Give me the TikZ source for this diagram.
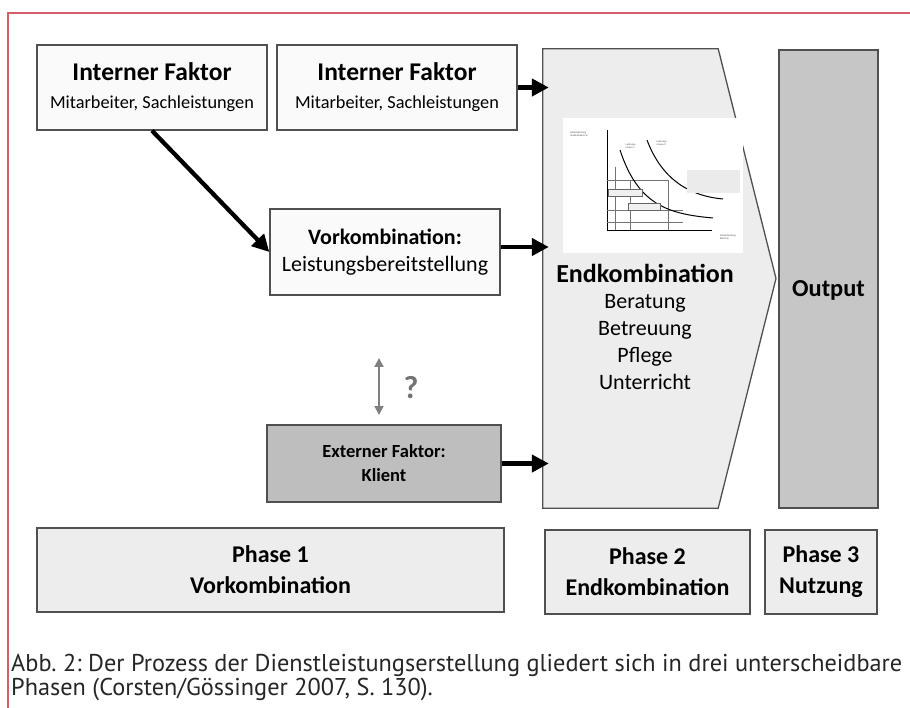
\documentclass[tikz,border=0pt]{standalone}
\usepackage{fontspec}
\setmainfont{Carlito}
\newfontfamily\captionfont{PT Sans}
\usetikzlibrary{arrows.meta,positioning}
\frenchspacing
\definecolor{framered}{HTML}{D35F6B}
\definecolor{boxline}{HTML}{505050}
\definecolor{lightfill}{HTML}{EDEDED}
\definecolor{outputfill}{HTML}{C6C6C6}
\definecolor{clientfill}{HTML}{BEBEBE}
\tikzset{
  box/.style={draw=boxline, line width=1.3pt, fill=black!2, align=center, inner sep=0pt},
  phasebox/.style={box, fill=lightfill, minimum height=84pt, font=\bfseries\fontsize{24}{31}\selectfont},
  flow/.style={line width=4.3pt, -{Triangle[length=17pt,width=17pt]}},
  chartline/.style={black!55, line width=0.5pt},
  chartlabel/.style={font=\fontsize{2.6}{3}\selectfont, align=left, inner sep=0pt, text=black!70}
}
\begin{document}
\begin{tikzpicture}[x=1pt,y=-1pt]
\useasboundingbox[fill=white] (0,0) rectangle (910,708);
\draw[framered, line width=1.3pt] (8,708) -- (8,13) -- (910,13);

\node[box, minimum width=230pt, minimum height=85pt, font=\fontsize{18.3}{28}\selectfont] (intA) at (152,87.5)
  {{\bfseries\fontsize{25.5}{28}\selectfont Interner Faktor}\\Mitarbeiter, Sachleistungen};
\node[box, minimum width=240pt, minimum height=85pt, font=\fontsize{18.3}{28}\selectfont] (intB) at (397,87.5)
  {{\bfseries\fontsize{25.5}{28}\selectfont Interner Faktor}\\Mitarbeiter, Sachleistungen};
\node[box, minimum width=230pt, minimum height=86pt, font=\fontsize{22}{27}\selectfont] (vork) at (385,252)
  {{\bfseries\fontsize{22}{27}\selectfont Vorkombination:}\\Leistungsbereitstellung};
\node[box, fill=clientfill, minimum width=234pt, minimum height=77pt, font=\bfseries\fontsize{18.5}{24}\selectfont] (ext) at (384,463.5)
  {Externer Faktor:\\Klient};

\node[minimum width=175pt, minimum height=459pt, inner sep=0pt] (endk) at (630.5,278.5) {};
\draw[boxline, line width=1.3pt, fill=lightfill] (endk.north west) -- (endk.north east) -- (776,278.5) -- (endk.south east) -- (endk.south west) -- cycle;
\node[box, fill=outputfill, minimum width=99pt, minimum height=458pt, text height=42pt, text depth=6pt, font=\bfseries\fontsize{24.4}{27}\selectfont] (output) at (828.5,279) {Output};

\fill[white] (563,118) rectangle (743,253);
\draw[line width=0.8pt] (607,130) -- (607,230) -- (712,230);
\draw[chartline] (615,167) -- (615,230) (630,180) -- (630,230) (668,180) -- (668,230);
\draw[chartline] (607,180) -- (668,180) (607,210) -- (683,210) (607,222) -- (683,222);
\draw[line width=1pt] (620,150) .. controls (638,205) and (668,214) .. (713,218);
\draw[line width=1pt] (647,140) .. controls (662,180) and (690,196) .. (723,199);
\fill[black!8] (687,170) rectangle (740,193);
\draw[black!60, line width=0.4pt, fill=black!6] (608,189) rectangle (642,196) (628,203) rectangle (660,210);
\node[chartlabel] (ylab) at (579,134) {Arbeitsleistung\\Sozialarbeiter/in};
\node[chartlabel] (niv1) at (631,146) {Leistungs-\\niveau 1};
\node[chartlabel] (niv2) at (662,143) {Leistungs-\\niveau 2};
\node[chartlabel] (xlab) at (728,237) {Arbeitsleistung\\Klient/in};

\node[font=\bfseries\fontsize{26}{30}\selectfont] (endktitle) at (645,273) {Endkombination};
\node[align=center, inner sep=0pt, font=\fontsize{22}{27}\selectfont, below=8pt of endktitle] (endkitems)
  {Beratung\\Betreuung\\Pflege\\Unterricht};

\node[phasebox, minimum width=467pt] (phase1) at (270.5,570) {Phase 1\\Vorkombination};
\node[phasebox, minimum width=205pt] (phase2) at (647.5,572) {Phase 2\\Endkombination};
\node[phasebox, minimum width=112pt] (phase3) at (821,572) {Phase 3\\Nutzung};

\draw[flow] (intA.south) -- (vork.west);
\draw[flow, shorten >=-6pt] (intB.east) -- (intB.east -| endk.west);
\draw[flow, shorten >=-6pt] ([yshift=5pt]vork.east) -- ([yshift=5pt]vork.east -| endk.west);
\draw[flow, shorten >=-6pt] (ext.east) -- (ext.east -| endk.west);

\coordinate (asktop) at (379,358);
\coordinate (askbot) at (379,415);
\draw[black!50, line width=1.8pt, {Triangle[length=9pt,width=9pt]}-{Triangle[length=9pt,width=9pt]}] (asktop) -- (askbot);
\node[text=black!55, font=\bfseries\fontsize{32}{36}\selectfont] (ask) at (411,388) {?};

\node[anchor=base west, inner sep=0pt, text=black!85, font=\captionfont\fontsize{24.3}{23}\selectfont] (cap1) at (11,671)
  {Abb. 2: Der Prozess der Dienstleistungserstellung gliedert sich in drei unterscheidbare};
\node[anchor=base west, inner sep=0pt, text=black!85, font=\captionfont\fontsize{24.3}{23}\selectfont] (cap2) at (11,695)
  {Phasen (Corsten/Gössinger 2007, S.~130).};
\end{tikzpicture}
\end{document}
